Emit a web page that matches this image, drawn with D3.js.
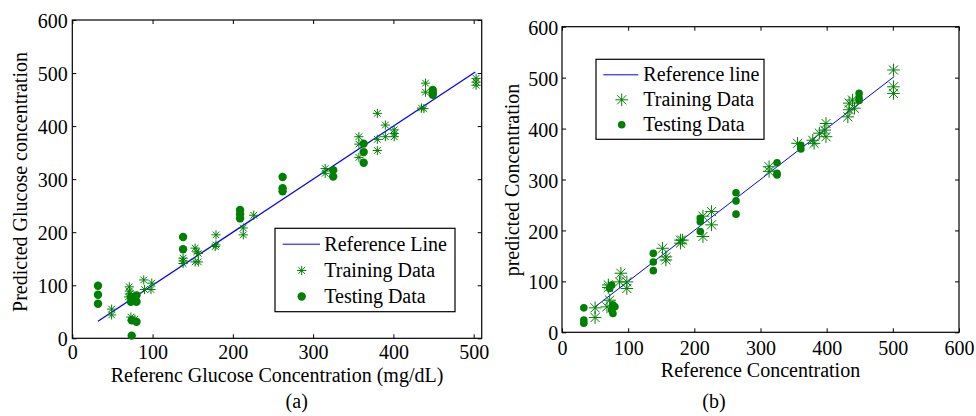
<!DOCTYPE html>
<html>
<head>
<meta charset="utf-8">
<script src="https://cdn.jsdelivr.net/npm/d3@7.9.0/dist/d3.min.js"></script>
<style>
  html, body { margin: 0; padding: 0; background: #fff; }
  svg { display: block; font-family: "Liberation Serif", "Times New Roman", serif; }
</style>
</head>
<body>
<svg id="fig" width="976" height="416"></svg>
<script>
/* ---------- data ---------- */
// panel (a): [reference, predicted]
const trainA = [
  [49,55],[49,44],[71,97],[71,89],[70,78],[72,84],[73,40],[78,36],
  [89,110],[90,92],[99,104],[98,92],[138,151],[138,141],[138,146],
  [153,170],[157,160],[157,144],[153,144],[155,163],[179,195],[179,176],[178,173],
  [213,208],[213,195],[226,232],[315,320],[315,311],[357,380],[357,366],[357,341],
  [380,424],[380,375],[380,354],[390,402],[390,380],[401,393],[401,380],[401,386],
  [435,434],[438,433],[440,481],[440,464],[503,490],[503,483],[503,477]
];
const testA = [
  [32,99],[32,82],[32,65],[74,5],[74,34],[80,31],[73,69],[80,69],[73,78],[80,81],[78,72],
  [138,191],[138,168],[209,242],[209,234],[209,226],[262,304],[262,283],[262,277],
  [325,317],[325,305],[363,367],[363,351],[363,331],[449,468],[449,459],[449,463]
];
const refA = [32, 502];

// panel (b)
const trainB = [
  [50,48],[50,29],[70,93],[72,63],[70,88],[68,50],[89,116],[87,99],[98,99],[98,86],
  [152,165],[157,148],[157,142],[179,181],[179,175],[182,181],[213,188],[213,228],
  [226,237],[226,211],[313,325],[313,316],[356,371],[381,371],[379,377],[389,391],
  [397,397],[399,410],[399,384],[432,423],[434,437],[434,450],[439,456],[442,440],
  [501,515],[501,482],[501,469]
];
const testB = [
  [33,48],[33,24],[33,18],[75,93],[72,86],[77,54],[75,44],[77,37],[80,50],
  [138,155],[138,138],[138,121],[209,224],[209,217],[209,198],[263,274],[263,258],[263,232],
  [325,333],[325,312],[325,309],[361,367],[361,360],[449,469],[449,460],[449,455]
];
const refB = [50, 502];

const ticksA_x = [0, 100, 200, 300, 400, 500];
const ticksB_x = [0, 100, 200, 300, 400, 500, 600];
const ticksY = [0, 100, 200, 300, 400, 500, 600];

const GREEN = '#008000';
const svg = d3.select('#fig');

/* asterisk = plus + cross */
function starPath(r) {
  const d = r * 0.72;
  return `M${-r},0H${r}M0,${-r}V${r}M${-d},${-d}L${d},${d}M${-d},${d}L${d},${-d}`;
}

function drawPanel(cfg) {
  const g = svg.append('g');
  const x = d3.scaleLinear().domain(cfg.xDomain).range([cfg.left, cfg.right]);
  const y = d3.scaleLinear().domain([0, 600]).range([cfg.bottom, cfg.top]);

  /* axes: inward ticks on all four sides */
  const ax = (gen, tr, labels, pad) => {
    const a = g.append('g').attr('transform', tr)
      .call(gen.tickSizeInner(-4).tickSizeOuter(0).tickPadding(pad)
        .tickFormat(labels ? d3.format('d') : ''));
    a.select('.domain').remove();
    a.selectAll('line').attr('stroke', '#000');
    a.selectAll('text').attr('font-size', 20).attr('fill', '#000')
      .attr('font-family', '"Liberation Serif", serif');
    return a;
  };
  ax(d3.axisBottom(x).tickValues(cfg.xTicks), `translate(0,${cfg.bottom})`, true, cfg.xPad);
  ax(d3.axisTop(x).tickValues(cfg.xTicks), `translate(0,${cfg.top})`, false, 0);
  const yl = ax(d3.axisLeft(y).tickValues(ticksY), `translate(${cfg.left},0)`, true, cfg.yPad);
  yl.selectAll('text').attr('dy', '0.38em');
  ax(d3.axisRight(y).tickValues(ticksY), `translate(${cfg.right},0)`, false, 0);

  g.append('rect')
    .attr('x', cfg.left).attr('y', cfg.top)
    .attr('width', cfg.right - cfg.left).attr('height', cfg.bottom - cfg.top)
    .attr('fill', 'none').attr('stroke', '#000').attr('stroke-width', 1.2);

  /* reference line y = x */
  g.append('line')
    .attr('x1', x(cfg.ref[0])).attr('y1', y(cfg.ref[0]))
    .attr('x2', x(cfg.ref[1])).attr('y2', y(cfg.ref[1]))
    .attr('stroke', '#0000ff').attr('stroke-width', cfg.lineW);

  /* training stars */
  g.append('g').selectAll('path').data(cfg.train).join('path')
    .attr('transform', d => `translate(${x(d[0])},${y(d[1])})`)
    .attr('d', starPath(cfg.starR))
    .attr('stroke', GREEN).attr('stroke-width', 1).attr('fill', 'none');

  /* testing dots */
  g.append('g').selectAll('circle').data(cfg.test).join('circle')
    .attr('cx', d => x(d[0])).attr('cy', d => y(d[1]))
    .attr('r', cfg.dotR).attr('fill', GREEN);

  /* labels */
  g.append('text').attr('x', (cfg.left + cfg.right) / 2).attr('y', cfg.xLabelY)
    .attr('text-anchor', 'middle').attr('font-size', 20).text(cfg.xLabel);
  g.append('text')
    .attr('transform', `translate(${cfg.yLabelX},${cfg.yLabelCY}) rotate(-90)`)
    .attr('text-anchor', 'middle').attr('font-size', 20).text(cfg.yLabel);
  g.append('text').attr('x', cfg.capX).attr('y', 408)
    .attr('text-anchor', 'middle').attr('font-size', 20).text(cfg.caption);

  /* legend */
  const L = cfg.legend;
  const lg = g.append('g');
  lg.append('rect').attr('x', L.x).attr('y', L.y).attr('width', L.w).attr('height', L.h)
    .attr('fill', '#fff').attr('stroke', '#000').attr('stroke-width', 1.2);
  const rows = L.rows;
  lg.append('line').attr('x1', L.lx0).attr('x2', L.lx1)
    .attr('y1', rows[0] - 6.5).attr('y2', rows[0] - 6.5)
    .attr('stroke', '#0000ff').attr('stroke-width', 1);
  lg.append('path').attr('transform', `translate(${L.mx},${rows[1] - 6.5})`)
    .attr('d', starPath(cfg.starR)).attr('stroke', GREEN).attr('fill', 'none');
  lg.append('circle').attr('cx', L.mx).attr('cy', rows[2] - 6.5)
    .attr('r', cfg.dotR).attr('fill', GREEN);
  lg.selectAll('text.lab').data(L.labels).join('text')
    .attr('class', 'lab').attr('x', L.tx).attr('y', (d, i) => rows[i])
    .attr('font-size', 20).text(d => d);
}

drawPanel({
  left: 72.3, right: 481.7, top: 20, bottom: 338.3, xDomain: [0, 510],
  xTicks: ticksA_x, xPad: 7, yPad: 4.6,
  train: trainA, test: testA, ref: refA, starR: 4.6, dotR: 4.2, lineW: 1.3,
  xLabel: 'Referenc Glucose Concentration (mg/dL)', xLabelY: 381.7,
  yLabel: 'Predicted Glucose concentration', yLabelX: 26.5, yLabelCY: 182,
  caption: '(a)', capX: 296.7,
  legend: { x: 275, y: 228.3, w: 180, h: 83.4, lx0: 282.7, lx1: 320, mx: 301.7, tx: 324.3,
            rows: [250.7, 277, 303], labels: ['Reference Line', 'Training Data', 'Testing Data'] }
});

drawPanel({
  left: 562, right: 959, top: 26.7, bottom: 332.3, xDomain: [0, 600],
  xTicks: ticksB_x, xPad: 9, yPad: 3.7,
  train: trainB, test: testB, ref: refB, starR: 6.3, dotR: 3.8, lineW: 1,
  xLabel: 'Reference Concentration', xLabelY: 376.5,
  yLabel: 'predicted Concentration', yLabelX: 519, yLabelCY: 180,
  caption: '(b)', capX: 714,
  legend: { x: 596, y: 59.3, w: 168, h: 80, lx0: 603.3, lx1: 638.3, mx: 621.7, tx: 643.3,
            rows: [81.3, 106.3, 131.3], labels: ['Reference line', 'Training Data', 'Testing Data'] }
});
</script>
</body>
</html>
